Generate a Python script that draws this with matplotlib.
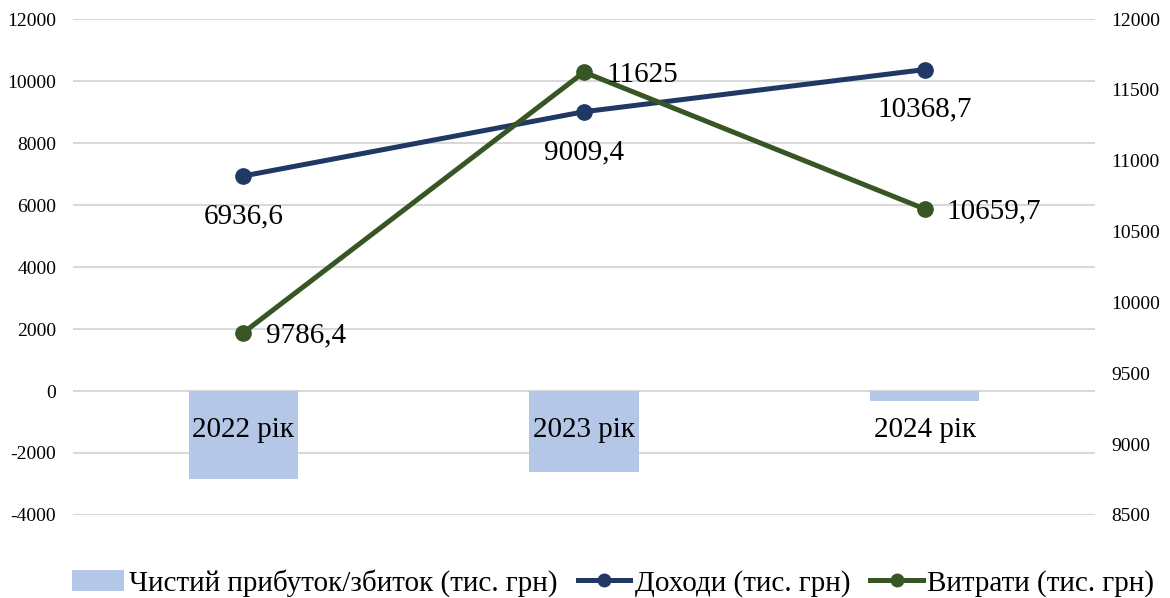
import matplotlib
matplotlib.use("Agg")
import matplotlib.pyplot as plt
from matplotlib.patches import Patch
from matplotlib.lines import Line2D

# Data (тис. грн)
years = ["2022 рік", "2023 рік", "2024 рік"]
net_profit = [-2840, -2610, -310]
income = [6936.6, 9009.4, 10368.7]
expenses = [9786.4, 11625, 10659.7]

left_ticks = list(range(-4000, 12001, 2000))
right_ticks = list(range(8500, 12001, 500))

SERIF = ["Liberation Serif", "DejaVu Serif"]
BAR_C = "#B4C7E7"
INC_C = "#203864"
EXP_C = "#375623"
GRID_C = "#D9D9D9"

plt.rcParams["font.family"] = SERIF

fig = plt.figure(figsize=(11.7, 5.98), dpi=100)
ax = fig.add_axes([0.0624, 0.1388, 0.8735, 0.8294])
ax2 = ax.twinx()

x = list(range(len(years)))

# Bars on the primary axis
ax.bar(x, net_profit, width=0.32, color=BAR_C, zorder=2)

# Income line on the primary axis
ax.plot(x, income, color=INC_C, lw=3.6, marker="o", ms=11, zorder=3,
        solid_capstyle="round")
for xi, v in zip(x, income):
    ax.annotate(f"{v:.1f}".replace(".", ","), (xi, v), xytext=(0, -29),
                textcoords="offset points", ha="center", va="center",
                fontsize=21, zorder=5)

# Expenses line on the secondary axis
ax2.plot(x, expenses, color=EXP_C, lw=3.6, marker="o", ms=11, zorder=3,
         solid_capstyle="round")
for xi, v in zip(x, expenses):
    txt = f"{v:g}" if float(v).is_integer() else f"{v:.1f}".replace(".", ",")
    ax2.annotate(txt, (xi, v), xytext=(16, -2), textcoords="offset points",
                 ha="left", va="center", fontsize=21, zorder=5)

# Primary axis styling
ax.set_xlim(-0.5, 2.5)
ax.set_ylim(-4000, 12000)
ax.set_yticks(left_ticks)
ax.set_yticklabels([str(t) for t in left_ticks])
ax.yaxis.grid(True, color=GRID_C, lw=1.5)
ax.set_axisbelow(True)
for s in ax.spines.values():
    s.set_visible(False)
ax.spines["bottom"].set_position(("data", 0))
ax.set_xticks(x)
ax.set_xticklabels(years, fontsize=21)
ax.xaxis.set_zorder(4)  # category labels sit on top of the bars
ax.tick_params(axis="x", length=0, pad=18.5)
ax.tick_params(axis="y", length=0, pad=12, labelsize=14)

# Secondary axis styling
ax2.set_ylim(8500, 12000)
ax2.set_yticks(right_ticks)
ax2.set_yticklabels([str(t) for t in right_ticks])
for s in ax2.spines.values():
    s.set_visible(False)
ax2.tick_params(axis="y", length=0, pad=12, labelsize=14)

# Legend
handles = [
    Patch(facecolor=BAR_C, edgecolor="none"),
    Line2D([], [], color=INC_C, lw=3.6, marker="o", ms=9),
    Line2D([], [], color=EXP_C, lw=3.6, marker="o", ms=9),
]
labels = ["Чистий прибуток/збиток (тис. грн)", "Доходи (тис. грн)",
          "Витрати (тис. грн)"]
fig.legend(handles, labels, loc="center", bbox_to_anchor=(0.524, 0.025),
           ncol=3, frameon=False, fontsize=21, handlelength=1.8,
           handletextpad=0.15, columnspacing=0.7, markerfirst=True)

fig.savefig("out.png", dpi=100)
